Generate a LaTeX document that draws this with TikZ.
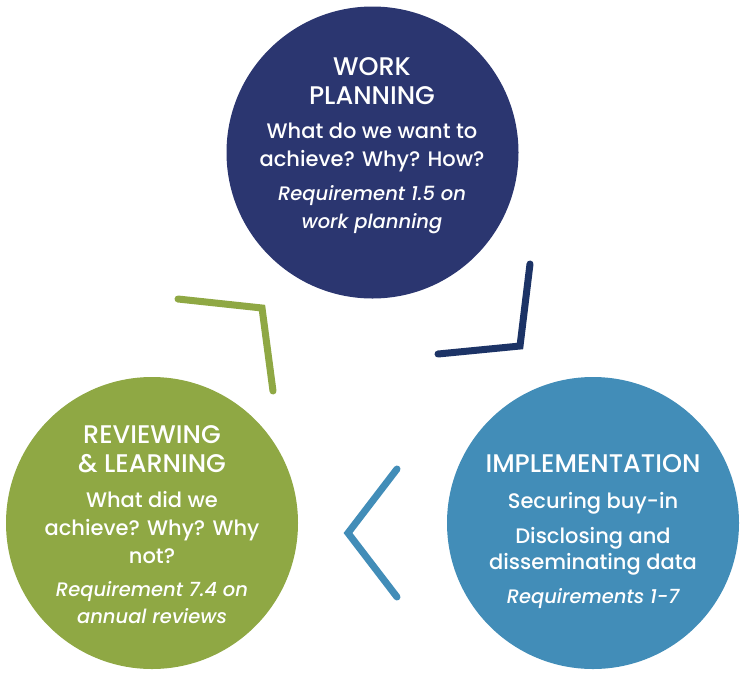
\documentclass[tikz,border=0pt]{standalone}
\usepackage{fontspec}
\setmainfont{Poppins}[UprightFont=* Medium, ItalicFont=* Medium Italic]
\definecolor{navy}{HTML}{2B3670}
\definecolor{navyline}{HTML}{1C3366}
\definecolor{olive}{HTML}{8FA844}
\definecolor{steel}{HTML}{428DB8}
\begin{document}
\begin{tikzpicture}[x=1pt,y=-1pt,
  disc/.style={circle,minimum size=292pt,inner sep=0pt,fill=#1},
  ttl/.style={anchor=base,text=white,font=\fontsize{25.5}{30}\selectfont},
  bdy/.style={anchor=base,text=white,font=\fontsize{21}{25}\selectfont},
  itl/.style={anchor=base,text=white,font=\fontsize{19.5}{23}\selectfont\itshape},
  chev/.style={line width=7pt,line cap=round,line join=miter,#1}]
\useasboundingbox (0,0) rectangle (746,681);
% circles
\node[disc=navy] (work) at (372.5,152.5) {};
\node[disc=olive] (review) at (152,523) {};
\node[disc=steel] (impl) at (593,523) {};
% top text
\node[ttl] (w1) at (372,75) {WORK};
\node[ttl] (w2) at (372,104) {PLANNING};
\node[bdy] (w3) at (372,138) {What do we want to};
\node[bdy] (w4) at (372,166) {achieve? Why? How?};
\node[itl] (w5) at (372,200) {Requirement 1.5 on};
\node[itl] (w6) at (372,228) {work planning};
% left text
\node[ttl] (r1) at (152,443) {REVIEWING};
\node[ttl] (r2) at (152,472) {\& LEARNING};
\node[bdy] (r3) at (152,507) {What did we};
\node[bdy] (r4) at (152,535) {achieve? Why? Why};
\node[bdy] (r5) at (152,563) {not?};
\node[itl] (r6) at (152,596) {Requirement 7.4 on};
\node[itl] (r7) at (152,623) {annual reviews};
% right text
\node[ttl] (i1) at (593,472) {IMPLEMENTATION};
\node[bdy] (i2) at (593,508) {Securing buy-in};
\node[bdy] (i3) at (593,543) {Disclosing and};
\node[bdy] (i4) at (593,569) {disseminating data};
\node[itl] (i5) at (593,603) {Requirements 1-7};
% chevrons
\coordinate (ga) at (178,299);
\coordinate (gb) at (262,308);
\coordinate (gc) at (273,391);
\coordinate (na) at (530,264);
\coordinate (nb) at (520,346);
\coordinate (nc) at (438,354);
\coordinate (ba) at (397,469);
\coordinate (bb) at (348,533);
\coordinate (bc) at (397,597);
\draw[chev=olive] (ga) -- (gb) -- (gc);
\draw[chev=navyline] (na) -- (nb) -- (nc);
\draw[chev=steel] (ba) -- (bb) -- (bc);
\end{tikzpicture}
\end{document}
